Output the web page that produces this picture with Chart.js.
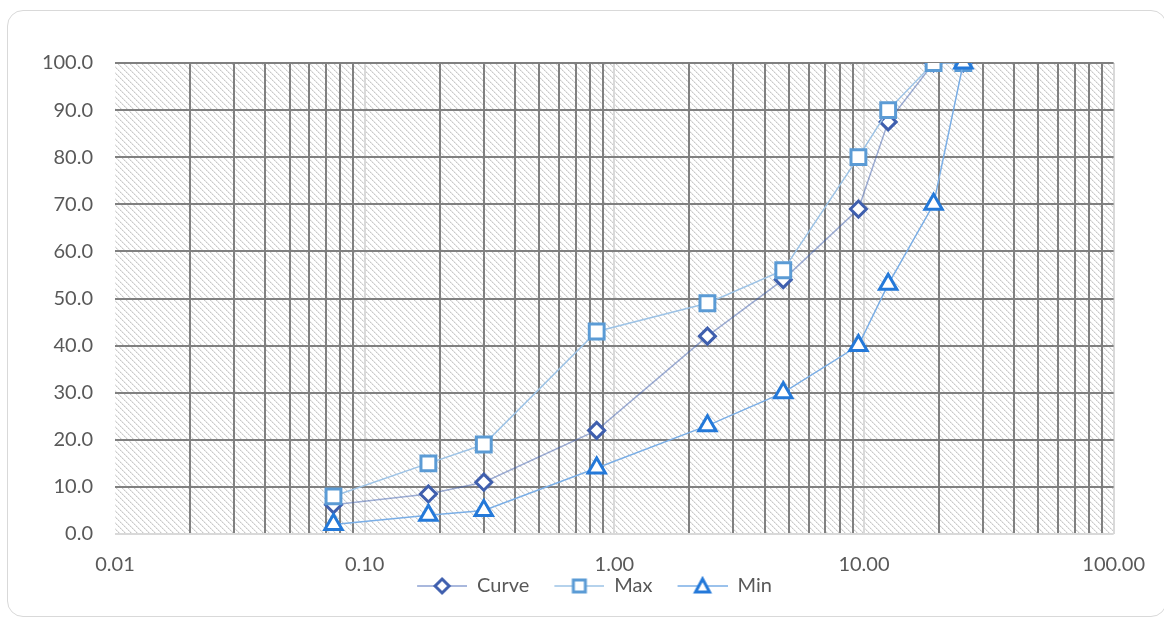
<!DOCTYPE html>
<html>
<head>
<meta charset="utf-8">
<script src="https://cdn.jsdelivr.net/npm/chart.js@4.4.1/dist/chart.umd.min.js"></script>
<style>
    html, body { margin: 0; padding: 0; background: #ffffff; }
    #card {
        position: absolute; left: 7px; top: 10px; width: 1160px; height: 607px;
        border: 1px solid #d9d9d9; border-radius: 16px; box-sizing: border-box;
    }
    #wrap { position: absolute; left: 0; top: 0; width: 1164px; height: 620px; }
</style>
</head>
<body>
<div id="card"></div>
<div id="wrap"><canvas id="grading-chart" width="1164" height="620"></canvas></div>
<script>
// sieve sizes (mm) and percent passing

var sieveSizes = [0.075, 0.18, 0.3, 0.85, 2.36, 4.75, 9.5, 12.5, 19, 25];

var curveValues = [6.2, 8.5, 11, 22, 42, 54, 69, 87.5, 100, 100];
var maxValues = [8, 15, 19, 43, 49, 56, 80, 90, 100, 100];
var minValues = [2, 4, 5, 14, 23, 30, 40, 53, 70, 100];

var seriesNames = ['Curve', 'Max', 'Min'];

var xTickLabels = ['0.01', '0.10', '1.00', '10.00', '100.00'];
var xMinorSteps = [1, 2, 3, 4, 5, 6, 7, 8, 9];
var yTickLabels = ['0.0', '10.0', '20.0', '30.0', '40.0', '50.0', '60.0', '70.0', '80.0', '90.0', '100.0'];

var textColor = '#595959';
var fontFamily = "Lato, 'Open Sans', sans-serif";

function toPoints(values) {
    return sieveSizes.map(function (size, i) {
        return { x: size, y: values[i] };
    });
}

// hatch pattern for the plot area (light dashed diagonals)
function makeHatch() {
    var c = document.createElement('canvas');
    c.width = 6;
    c.height = 6;
    var g = c.getContext('2d');
    g.fillStyle = '#ffffff';
    g.fillRect(0, 0, 6, 6);
    for (var i = 0; i < 6; i++) {
        g.fillStyle = (i % 2 === 0) ? '#c9c9c9' : '#dedede';
        g.fillRect(i, i, 1, 1);
        g.fillStyle = '#ececec';
        g.fillRect((i + 1) % 6, i, 1, 1);
    }
    return c;
}

// legend icon: short line with marker in the middle (left margin = gap between items)
var iconGap = 25;
function makeLegendIcon(kind, lineColor, markColor) {
    var c = document.createElement('canvas');
    c.width = 50 + iconGap;
    c.height = 22;
    var g = c.getContext('2d');
    var cx = iconGap + 25, cy = 11;
    g.strokeStyle = lineColor;
    g.lineWidth = 1.5;
    g.beginPath();
    g.moveTo(iconGap, cy);
    g.lineTo(iconGap + 50, cy);
    g.stroke();
    g.fillStyle = '#ffffff';
    g.strokeStyle = markColor;
    g.lineWidth = 3;
    g.beginPath();
    if (kind === 'diamond') {
        g.moveTo(cx, cy - 7); g.lineTo(cx + 7, cy); g.lineTo(cx, cy + 7); g.lineTo(cx - 7, cy); g.closePath();
    } else if (kind === 'square') {
        g.rect(cx - 6, cy - 6, 12, 12);
    } else {
        g.moveTo(cx, cy - 7); g.lineTo(cx + 7, cy + 6); g.lineTo(cx - 7, cy + 6); g.closePath();
    }
    g.fill();
    g.stroke();
    return c;
}

var legendIcons = [
    makeLegendIcon('diamond', '#8da0d2', '#3f5fae'),
    makeLegendIcon('square', '#9dc3e6', '#5b9bd5'),
    makeLegendIcon('triangle', '#7aaee6', '#2479d9')
];

var hatchPlugin = {
    id: 'hatchBackground',
    afterLayout: function (chart) {
        // nudge the legend so it sits centred like the original
        chart.legend.left += 12;
        chart.legend.right += 12;
    },
    beforeDraw: function (chart) {
        var ctx = chart.ctx;
        var a = chart.chartArea;
        ctx.save();
        ctx.fillStyle = ctx.createPattern(makeHatch(), 'repeat');
        ctx.fillRect(a.left, a.top, a.right - a.left, a.bottom - a.top);
        ctx.restore();
    }
};

function isDecade(v) {
    var l = Math.log10(v);
    return Math.abs(l - Math.round(l)) < 1e-9;
}

var ctx = document.getElementById('grading-chart').getContext('2d');

var gradingChart = new Chart(ctx, {
    type: 'line',
    data: {
        datasets: [{
            label: seriesNames[0],
            data: toPoints(curveValues),
            order: 2,
            borderColor: 'rgba(63, 95, 174, 0.5)',
            borderWidth: 1.5,
            pointStyle: 'rectRot',
            pointRadius: 8,
            pointBorderWidth: 3,
            pointBackgroundColor: '#ffffff',
            pointBorderColor: '#3f5fae'
        }, {
            label: seriesNames[1],
            data: toPoints(maxValues),
            order: 1,
            borderColor: '#9dc3e6',
            borderWidth: 1.5,
            pointStyle: 'rect',
            pointRadius: 10.5,
            pointBorderWidth: 3,
            pointBackgroundColor: '#ffffff',
            pointBorderColor: '#5b9bd5'
        }, {
            label: seriesNames[2],
            data: toPoints(minValues),
            order: 0,
            borderColor: '#7aaee6',
            borderWidth: 1.5,
            pointStyle: 'triangle',
            pointRadius: 10,
            pointBorderWidth: 3,
            pointBackgroundColor: '#ffffff',
            pointBorderColor: '#2479d9'
        }]
    },
    options: {
        responsive: false,
        animation: false,
        layout: {
            padding: { top: 63, left: 25, right: 49, bottom: 14 }
        },
        scales: {
            x: {
                type: 'logarithmic',
                min: 0.01,
                max: 100,
                border: { display: false },
                afterBuildTicks: function (scale) {
                    var ticks = [];
                    for (var e = -2; e <= 1; e++) {
                        xMinorSteps.forEach(function (m) {
                            ticks.push({ value: m * Math.pow(10, e) });
                        });
                    }
                    ticks.push({ value: 100 });
                    scale.ticks = ticks;
                },
                grid: {
                    drawTicks: false,
                    lineWidth: 2,
                    color: function (c) {
                        if (!c.tick) return '#808080';
                        if (c.tick.value === 0.01) return 'rgba(0,0,0,0)';
                        return isDecade(c.tick.value) ? '#d9d9d9' : '#808080';
                    }
                },
                ticks: {
                    autoSkip: false,
                    maxRotation: 0,
                    padding: 19,
                    color: textColor,
                    font: { family: fontFamily, size: 20 },
                    callback: function (value) {
                        if (!isDecade(value)) return '';
                        var idx = Math.round(Math.log10(value)) + 2;
                        return xTickLabels[idx];
                    }
                },
                afterFit: function (scale) {
                    scale.height = 42;
                }
            },
            y: {
                min: 0,
                max: 100,
                border: { display: false },
                grid: {
                    drawTicks: false,
                    lineWidth: 2,
                    color: function (c) {
                        if (c.tick && c.tick.value === 0) return '#d9d9d9';
                        return '#808080';
                    }
                },
                ticks: {
                    stepSize: 10,
                    padding: 22,
                    color: textColor,
                    font: { family: fontFamily, size: 20 },
                    callback: function (value, index) {
                        return yTickLabels[index];
                    }
                },
                afterFit: function (scale) {
                    scale.width = 90;
                }
            }
        },
        plugins: {
            legend: {
                position: 'bottom',
                labels: {
                    usePointStyle: true,
                    pointStyleWidth: 50 + iconGap,
                    color: textColor,
                    padding: 0,
                    font: { family: fontFamily, size: 20 },
                    sort: function (a, b) {
                        return a.datasetIndex - b.datasetIndex;
                    },
                    generateLabels: function (chart) {
                        var items = Chart.defaults.plugins.legend.labels.generateLabels(chart);
                        items.forEach(function (item) {
                            item.pointStyle = legendIcons[item.datasetIndex];
                        });
                        return items;
                    }
                }
            },
            tooltip: { enabled: false }
        }
    },
    plugins: [hatchPlugin]
});
</script>
</body>
</html>
